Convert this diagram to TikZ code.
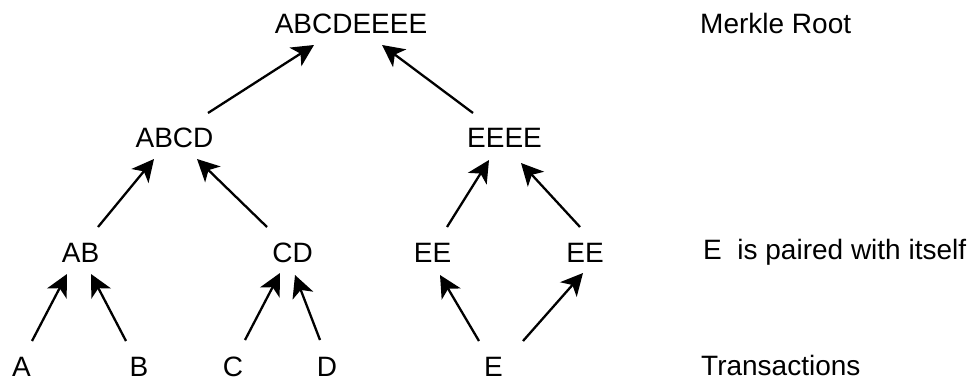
\documentclass[tikz,border=0pt]{standalone}
\usepackage{fontspec}
\setmainfont{Liberation Sans}
\usetikzlibrary{arrows.meta,calc}
\begin{document}
\begin{tikzpicture}[x=1pt,y=-1pt,
  txt/.style={font=\fontsize{28}{32}\selectfont, inner sep=0pt},
  hashnode/.style={txt, anchor=base},
  sidenote/.style={txt, anchor=base west},
  link/.style={line width=2.3pt, -{Stealth[length=22pt,width=22pt,inset=6pt]}}]
\useasboundingbox (0,0) rectangle (973,380);

% tree levels, placed at their baselines
\node[hashnode] (root) at (351,33)    {ABCDEEEE};
\node[hashnode] (abcd) at (174.5,147) {ABCD};
\node[hashnode] (eeee) at (504.5,147) {EEEE};
\node[hashnode] (ab)   at (80.5,262)  {AB};
\node[hashnode] (cd)   at (292.5,262) {CD};
\node[hashnode] (eel)  at (432.5,262) {EE};
\node[hashnode] (eer)  at (585,262)   {EE};
\node[hashnode] (a)    at (21.5,376)  {A};
\node[hashnode] (b)    at (139,376)   {B};
\node[hashnode] (c)    at (233,376)   {C};
\node[hashnode] (d)    at (327,376)   {D};
\node[hashnode] (e)    at (493.5,376) {E};

% notes on the right
\node[sidenote] (rootnote)  at (700,33)  {Merkle Root};
\node[sidenote] (pairnote)  at (703,259) {E\ \ is paired with itself};
\node[sidenote] (txnote)    at (701,375) {Transactions};

% transactions to first hashes
\draw[link] ($(a.base)+(10.5,-35)$)  -- ($(ab.base)+(-13.5,12)$);
\draw[link] ($(b.base)+(-13,-35)$)   -- ($(ab.base)+(10.5,12)$);
\draw[link] ($(c.base)+(12,-36)$)    -- ($(cd.base)+(-12.5,11)$);
\draw[link] ($(d.base)+(-7,-36)$)    -- ($(cd.base)+(2.5,13)$);
\draw[link] ($(e.base)+(-14.5,-35)$) -- ($(eel.base)+(7.5,13)$);
\draw[link] ($(e.base)+(29.5,-35)$)  -- ($(eer.base)+(-2,11)$);

% first hashes to second level
\draw[link] ($(ab.base)+(17.5,-35)$)  -- ($(abcd.base)+(-20.5,12)$);
\draw[link] ($(cd.base)+(-25.5,-35)$) -- ($(abcd.base)+(22.5,12)$);
\draw[link] ($(eel.base)+(14.5,-35)$) -- ($(eeee.base)+(-15.5,13)$);
\draw[link] ($(eer.base)+(-5,-35)$)   -- ($(eeee.base)+(16.5,16)$);

% second level to root
\draw[link] ($(abcd.base)+(33.5,-34)$)  -- ($(root.base)+(-37,12)$);
\draw[link] ($(eeee.base)+(-31.5,-34)$) -- ($(root.base)+(31,12)$);
\end{tikzpicture}
\end{document}
